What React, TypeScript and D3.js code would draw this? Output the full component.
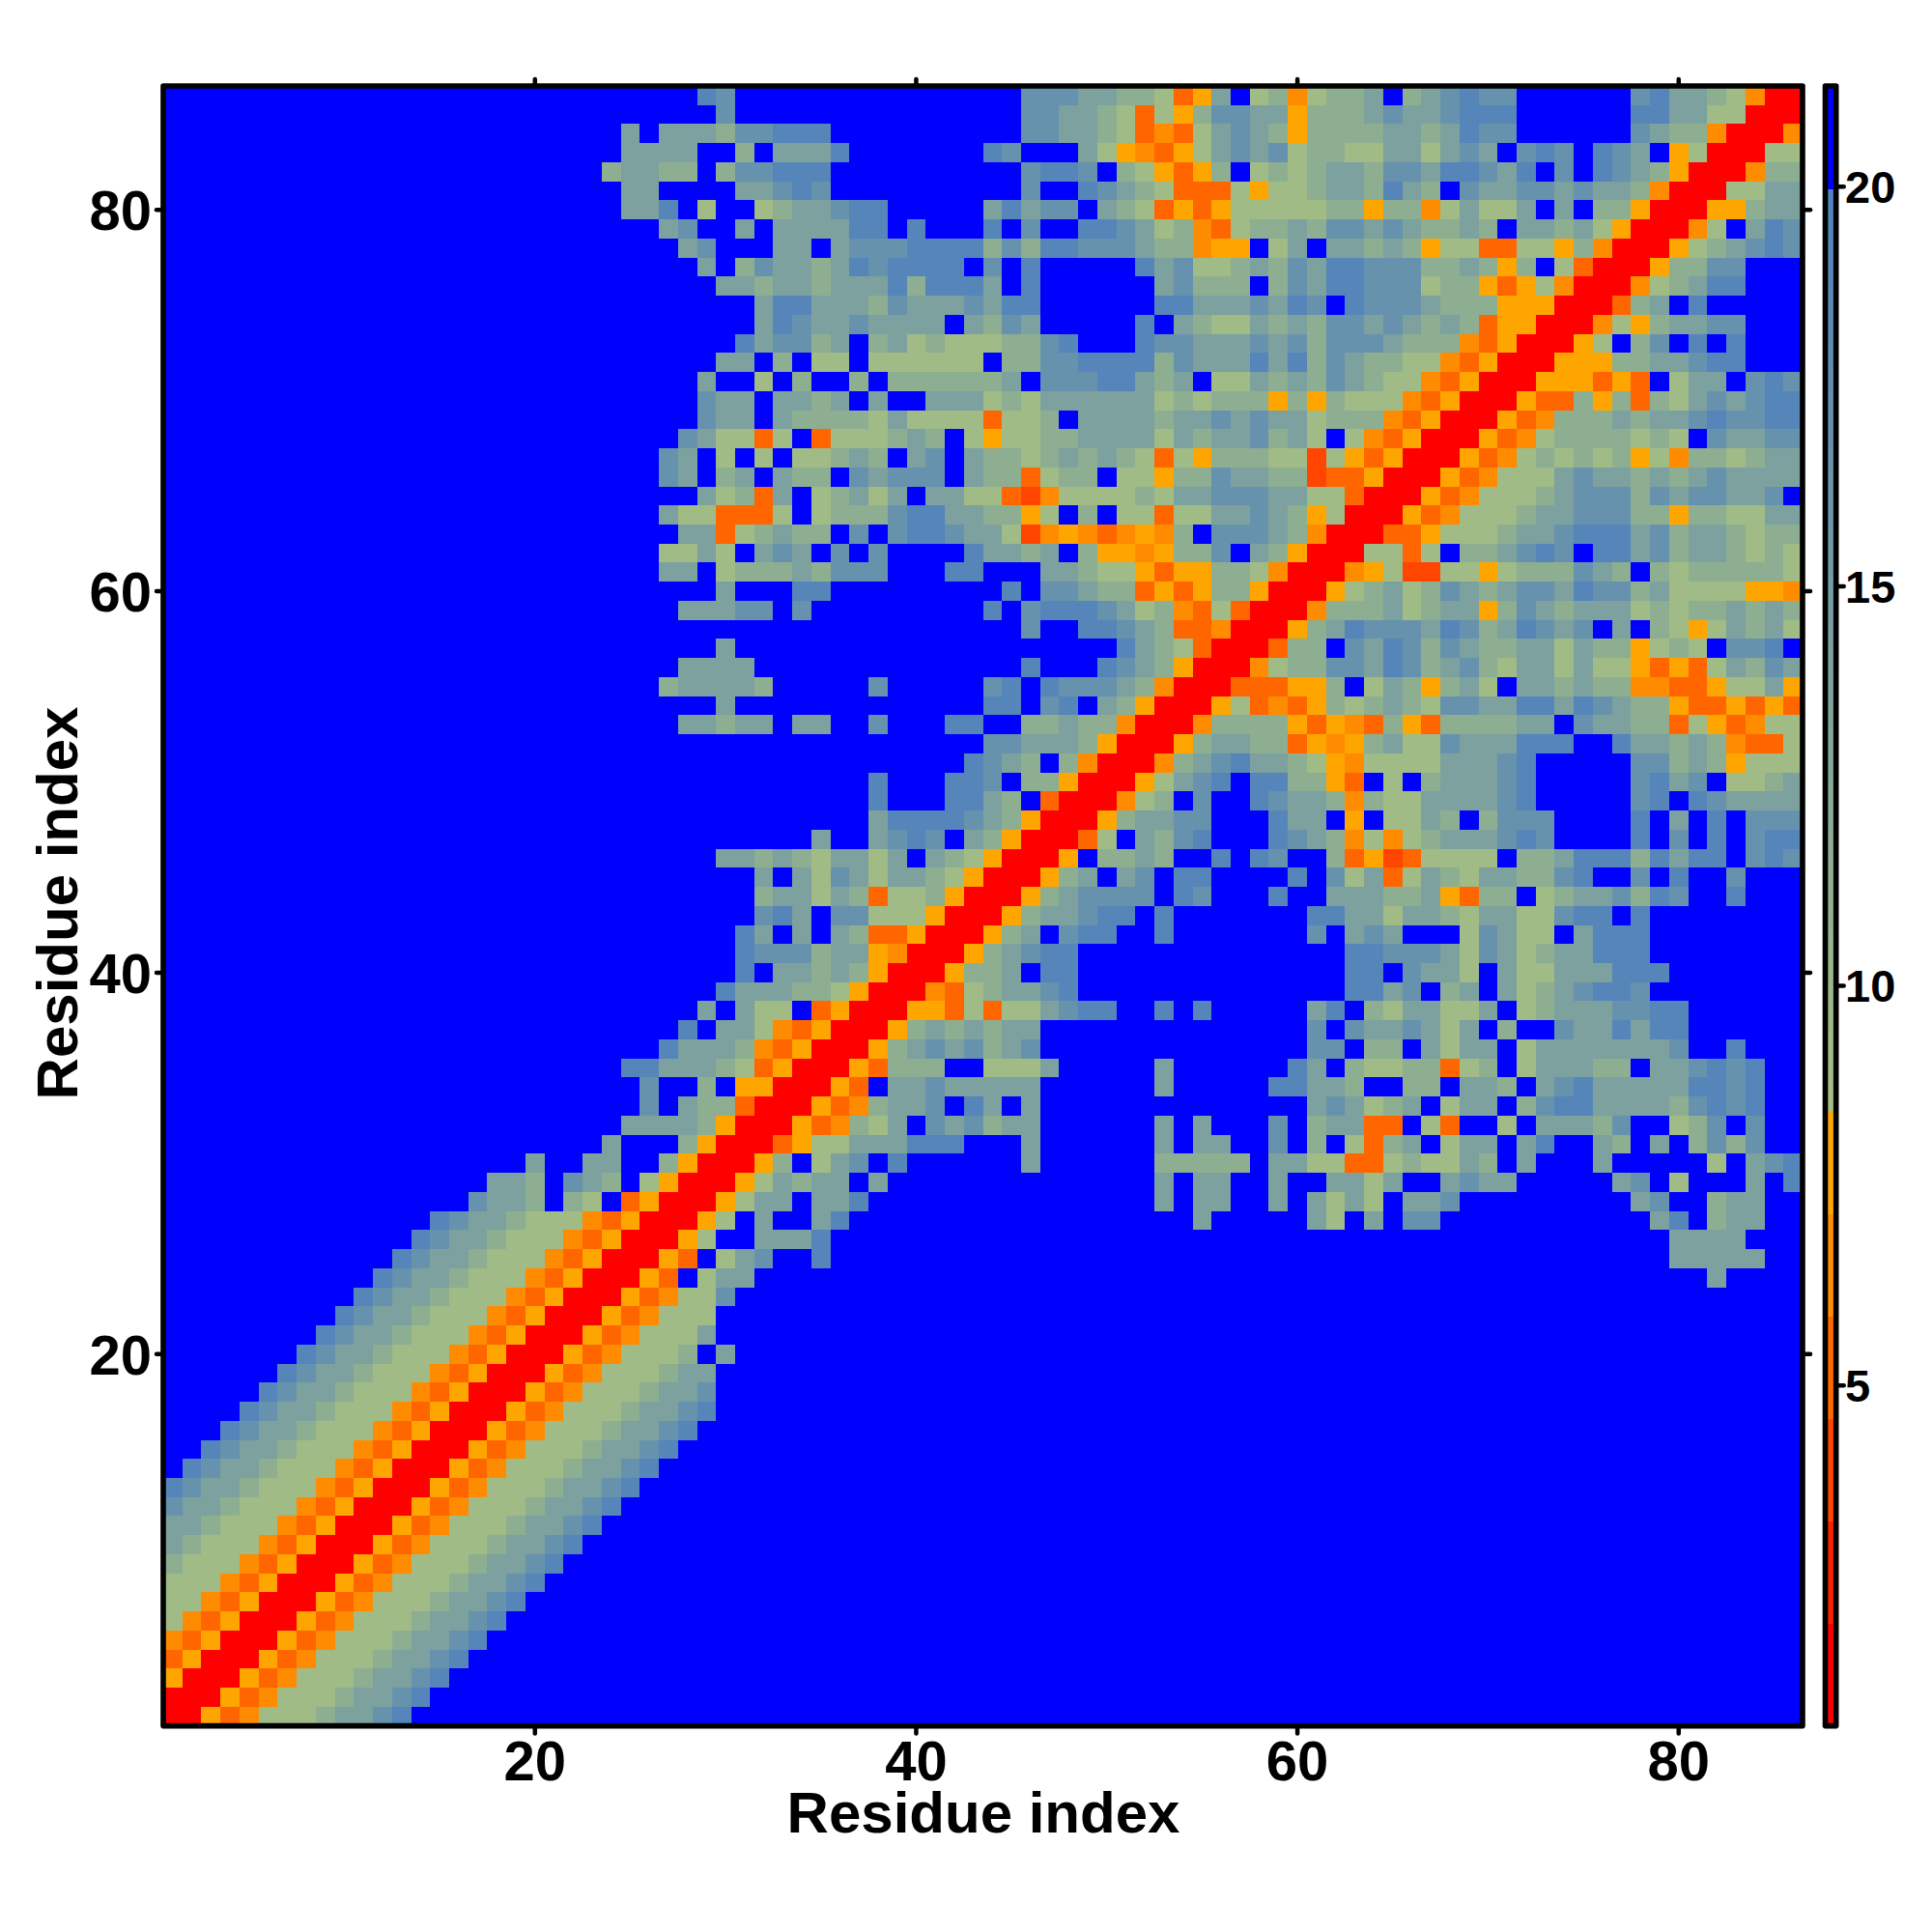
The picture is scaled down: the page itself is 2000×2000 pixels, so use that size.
import React from "react";
import * as d3 from "d3";

const FONT = "'Liberation Sans', Arial, Helvetica, sans-serif";
const RESIDUE_COUNT = 86;
const AXIS_TICKS = [20, 40, 60, 80];
const BAR_TICKS = [5, 10, 15, 20];
const AXIS_TITLE = "Residue index";

// Distance class (Angstrom-like value) of each code used in ROWS.
const LEVEL_VALUES: Record<string, number> = {
  R: 1.4, s: 4, r: 5.2, o: 6.4, y: 7.8, e: 9.2, d: 11.6, c: 14, b: 16.8, a: 19.2, B: 21,
};

// Colour bands of the key, from the bottom upward.
const BAND_COLORS = ["#FF0000", "#F52200", "#FF4500", "#FF6600", "#FF8C00", "#FFA500"];
const RAMP_LOW = "#A6BF82";
const RAMP_HIGH = "#4F81BD";
const FAR_COLOR = "#0000FF";
const VALUE_MIN = 0.74;
const VALUE_MAX = 21.26;
const KEY_LEVELS = 64;

// Top row first (residue 86). "col:codes" writes codes from that column; anything unwritten is far (B).
const ROWS = [
  "29:ab 46:bbbccdderycBedoeddcBdcbabbBBBBBBbaccdeoRR",
  "30:b 44:BBbbccdereydbbccydddc 65:bccbaaaBBBBBBaacceeRRR",
  "25:cBcccdbbaaa 44:BBbbccderorecbcdydddd 65:ccdcabbBBBBBBbcddoRRRo",
  "25:ccccBBdBccca 44:abBBBceyoryecbcbeddee 65:ccecbcBbabBabcByeRRRee",
  "24:dccddBdbbaaa 44:BBbaabBdeyrydBededccd 65:bbcaabcaBbBabcdyRRRodd",
  "25:ccBBBBccbab 44:BBbBBabcderrreyeedccd 65:acdBbccbbcbccdoRRReecc",
  "25:ccaBeBBedccbaa 44:cacbbBcderyryeeeeeddy 65:ddoeceecBcBddyRRRyydcc",
  "27:cbBBcBccccaaBa 44:aBbBBaabcedoreddcdbbc 65:bcddcdBccdceyRRRoeBcab",
  "28:cbBBBccBcbbbaaaa 44:dbdaabbbcddoyyBecBccd 65:cdyeerreeydoRRRyedcbab",
  "29:cBdbccdcabaaaaBb 45:BaBBBBBacbeedcdbcaab 65:bbddcdydBerRRRyddbbBBB",
  "30:ccdccdcccadaaac 45:BaBBBBBBcbdddBdbcaab 65:bbeddyryeoRRRoedcaaBBB",
  "32:caacccdbcccbc 45:aaBBBBBBaacccbcabBab 65:bbcdddyyyRRRrdcBaBBBBB",
  "32:cabccbccccBcd 45:bcBBBBBaBcdeecdcdbbc 65:bcdcdryyRRRoeydccbbBBB",
  "31:acbbdcBdcedeee 45:ddbaBBBabbcccbcbdbbb 65:cdddoryRRRyeBdbBaBaBBB",
  "30:ccBdBeeBeeeeeeB 45:ddbbaaaadbcccacadbcd 65:deeoryRRRyyyddccbaaBBB",
  "29:cBBeBdBBdBdddddd 45:cBbbbaacdcBeecdcdbcd 65:eeoryRRRyyyryrBeccBbab",
  "29:bccBccdcBcBBccce 45:deccccccededddydydee 65:eoryRRRyrrdydrdecbcbaa",
  "29:bccBcddddeceeeer 45:eedBccccdccbcbcceddd 65:oryRRRyrodddcdccbabbaa",
  "28:bceereBreeedcdBey 45:eeddccccecdccbdceBeo 65:ryRRRyroeddddedeBbccbb",
  "27:bcBeBeBeedcdBcbBcd 45:dedcdcdereydddeeseyr 65:yRRRyroedededyeoddedcc",
  "27:bcBdcBcddBbcbbbBcd 45:dreddBeeyddbccddsrry 65:RRRyroeeecbccdcdcbcccc",
  "29:cedrcBedcecBcceerso 48:eeeedeccbbbcceerR 65:RRyroeeedcbbbdbcbbccbB",
  "27:ceerrreBedddbaaccddye 48:BdBeereeccbcdyeRR 65:Ryroeeedccbbbddyddeecc",
  "28:ccredcddBbBbaabcceso 48:yoroyodBbbbcdoRRR 65:rryeeedccbaaacbdccdedd",
  "27:eeceBcbcBbBbBBBBaccdc 48:BdyyoyddbBcdyRRRe 65:ereBddcbabBaacbdccdede",
  "27:ccBedddcdbbbBBBaaBBBc 48:cdeeyryyddeoRRRoy 65:esseeyedddbcdBdeddddde",
  "30:cBBBaa 45:aBbbcddryryddyRRRyed 65:cedbcdcbbcabbdceeeeyyo",
  "28:cccbbBb 44:aBbaaabcedorerRRRoddd 65:cedccydbcdcccededdcdcd",
  "44:BBbBBaabcdrroRRRydcab 65:bbcabdcabcbBcBdeyecdce",
  "30:c 51:acderRRRrddBbc 65:abdbcddccecddyedeBbbaB",
  "28:cccc 46:a 50:abcdyRRRoeddbbc 65:abdcbdecceceeyryrecdbc",
  "27:dccccd 38:b 44:baBa 48:bbbcdoRRRrrryydBe 65:cdydceBccdcddoorryeecy",
  "30:c 44:aaBbaBcdyRRRyeroryded 65:cdebbccaacabcddyrryryr",
  "28:ccdccBccBBbBBBaaBBdd 48:cddoRRRoddddyryor 65:dyrddddccBbccddreyroee",
  "44:bbcccdyRRRydccddryoyd 65:ceebcccaaaBBaccdcdorre",
  "43:abcdBdoRRRodcbaccdeyoe 65:eeecccbaBBBBBbbdcdyeee",
  "38:a 42:aabBddyRRRyecbaBaaddyrB 65:eBdcccbaBBBBBbacbBeedc",
  "38:a 42:aacdBrRRRoedBbBBabccdod 65:eeccccbaBBBBBbaBabcccc",
  "38:caaaabcdyRRRydccbbBBBaccByB 65:eecdBdbbbBBBBaBcBaBbbb",
  "35:c 38:cbabBcdyRRRreBcdbaBBBabcdoe 65:oedcccbabBBBBaBbBaBbaa",
  "30:ccdcdeccecBcdeyRRR 48:yBddcdBBaBabBBdry 65:sreeeeBddcaaadacaaBbab",
  "32:cBcebceccdeyRRRy 48:dcBcbBaaBBBBaBbec 65:recdeccddbaBBbBaBBbBBB",
  "32:dccecdreedyRRRydc 49:bbbbBabBBBaBBccc 65:ddcyrddBedccbdabBBa",
  "32:bacBbbeeeyRRRydccbaaBa 61:aacc 65:eccdecceebaaBa",
  "31:acBcBcdrryRRRydcBbaaBBa 61:bBcbc 66:BBBebceeBcaaa",
  "31:abbbdccyoRRRydcbaa 63:aabbbcebcedccaaa",
  "31:aBccdcdyRRRyddcBaa 63:aaBbcceBceecccaaa",
  "30:acccddeyRRRoredccba 63:aacbBdcBcedcbaab",
  "29:cBceeBryRRRyyrereecbaa 53:a 55:a 61:caBdecceecBedcccbbaa",
  "28:aBcceoryRRRydcdcdcc 61:bBbccbcecBdBBbccacaa",
  "27:acccdoryRRRydcbcbdcb 61:bbBddBceccBecccccccb 83:a",
  "25:aacccderyRRRyrdddBBeeec 53:c 60:acBdeeddredBecccddBccbaba",
  "26:bBBdByyRRRyrBccbccccc 53:c 59:aaccdBBddBccdBcbacccccaaba",
  "26:bBcddrRRRyrodccbBacBc 61:cbcedcBeccBdbaaccccdbaba",
  "25:ccccdyRRRyrodecBbcbdcc 53:c 55:c 59:b 61:dccrrBerBBeBcccdbBBedbBb",
  "24:c 28:dyRRRryeecccaaa 46:c 53:c 55:cc 59:b 61:dBerdcBeccBcaBBcdBcBdbdb",
  "20:c 23:cc 27:dyRRRydBecbBa 46:c 53:ddddd 59:cceerre 66:deecdBc 76:c 82:e 84:cba",
  "18:ccd 22:bcd 26:eyRRRyecdccBc 53:c 55:cc 59:c 62:ccec 68:cbcc 77:cb 80:e 84:c 86:a",
  "17:bccd 22:de 25:ryRRRyeccBcca 53:c 55:cc 59:c 61:cece 66:ccb 78:cb 82:dcc",
  "15:abccdeeeoryRRRyeBcBBca 55:c 61:ceBc 66:bb 79:ca 82:dcc",
  "14:abccdeeeoryRRRyeBBccca 80:cccc",
  "13:abccdeeeoryRRRyrBecbBBa 80:ccccc",
  "12:abccdeeeoryRRRyrBecc 82:c",
  "11:abccdeeeoryRRRyroeeb",
  "10:abccdeeeoryRRRyroeee",
  "9:abccdeeeoryRRRyroeeec",
  "8:abccdeeeoryRRRyroeeedBc",
  "7:abccdeeeoryRRRyroeeedcc",
  "6:abccdeeeoryRRRyroeeedccb",
  "5:abccdeeeoryRRRyroeeedccba",
  "4:abccdeeeoryRRRyroeeedccba",
  "3:abccdeeeoryRRRyroeeedccba",
  "2:abccdeeeoryRRRyroeeedccba",
  "1:abccdeeeoryRRRyroeeedccba",
  "1:bccdeeeoryRRRyroeeedccba",
  "1:ccdeeeoryRRRyroeeedccba",
  "1:cdeeeoryRRRyroeeedccba",
  "1:deeeoryRRRyroeeedccba",
  "1:eeeoryRRRyroeeedccba",
  "1:eeoryRRRyroeeedccba",
  "1:eoryRRRyroeeedccba",
  "1:oryRRRyroeeedccba",
  "1:ryRRRyroeeedccba",
  "1:yRRRyroeeedccba",
  "1:RRRyroeeedccba",
  "1:RRyroeeedccba",
];

type Cell = { col: number; row: number; value: number };

function decodeCells(): Cell[] {
  const cells: Cell[] = [];
  ROWS.forEach((line, i) => {
    const row = RESIDUE_COUNT - i;
    const codes = new Array(RESIDUE_COUNT + 1).fill("B");
    line.split(" ").forEach((seg) => {
      const [start, text] = seg.split(":");
      text.split("").forEach((ch, k) => {
        const col = +start + k;
        if (col <= RESIDUE_COUNT) codes[col] = ch;
      });
    });
    for (let col = 1; col <= RESIDUE_COUNT; col++) {
      cells.push({ col, row, value: LEVEL_VALUES[codes[col]] });
    }
  });
  return cells;
}

const step = (VALUE_MAX - VALUE_MIN) / KEY_LEVELS;
const bandScale = d3
  .scaleQuantize<string>()
  .domain([VALUE_MIN, VALUE_MIN + 24 * step])
  .range(BAND_COLORS);
const rampScale = d3
  .scaleLinear<string>()
  .domain([VALUE_MIN + 24 * step, VALUE_MIN + 60 * step])
  .range([RAMP_LOW, RAMP_HIGH]);

function colorOf(v: number): string {
  if (v >= VALUE_MIN + 60 * step) return FAR_COLOR;
  if (v < VALUE_MIN + 24 * step) return bandScale(v);
  return rampScale(v);
}

const x = d3.scaleLinear().domain([0.5, 86.5]).range([169, 1866]);
const y = d3.scaleLinear().domain([0.5, 86.5]).range([1786.6, 89]);
const barY = d3.scaleLinear().domain([VALUE_MIN, VALUE_MAX]).range([1786.6, 89]);

const BAR_LEFT = 1889.5;
const BAR_RIGHT = 1900.7;
const BORDER = 5.6;
const TICK = 6;
const TICK_W = 4.5;

export default function App() {
  const cells = decodeCells();
  const keyLevels = d3.range(KEY_LEVELS);
  const left = x(0.5);
  const right = x(86.5);
  const top = y(86.5);
  const bottom = y(0.5);
  const tickProps = { stroke: "#000", strokeWidth: TICK_W, strokeLinecap: "round" as const };
  return (
    <svg
      width={2000}
      height={2000}
      viewBox="0 0 2000 2000"
      style={{ position: "absolute", left: 0, top: 0, display: "block", background: "#fff" }}
      fontFamily={FONT}
      fontWeight="bold"
    >
      <g shapeRendering="crispEdges">
        {cells.map((c) => (
          <rect
            key={`${c.col}-${c.row}`}
            x={x(c.col - 0.5)}
            y={y(c.row + 0.5)}
            width={x(c.col + 0.5) - x(c.col - 0.5) + 0.4}
            height={y(c.row - 0.5) - y(c.row + 0.5) + 0.4}
            fill={colorOf(c.value)}
          />
        ))}
      </g>
      <rect x={left} y={top} width={right - left} height={bottom - top} fill="none" stroke="#000" strokeWidth={BORDER} strokeLinejoin="round" />
      {AXIS_TICKS.map((t) => (
        <g key={t}>
          <line x1={x(t)} x2={x(t)} y1={bottom + 2} y2={bottom + TICK + 2} {...tickProps} />
          <line x1={x(t)} x2={x(t)} y1={top - 2} y2={top - TICK - 1} {...tickProps} />
          <line y1={y(t)} y2={y(t)} x1={left - 2} x2={left - TICK - 1} {...tickProps} />
          <line y1={y(t)} y2={y(t)} x1={right + 2} x2={right + TICK + 2} {...tickProps} />
          <text x={x(t)} y={1843} fontSize={58} textAnchor="middle">{t}</text>
          <text x={157} y={y(t)} dy="0.36em" fontSize={58} textAnchor="end">{t}</text>
        </g>
      ))}
      <text x={1018} y={1897} fontSize={60} textAnchor="middle">{AXIS_TITLE}</text>
      <text transform={`translate(80,935) rotate(-90)`} fontSize={60} textAnchor="middle">{AXIS_TITLE}</text>

      <g shapeRendering="crispEdges">
        {keyLevels.map((l) => {
          const lo = VALUE_MIN + l * step;
          return (
            <rect
              key={l}
              x={BAR_LEFT}
              width={BAR_RIGHT - BAR_LEFT}
              y={barY(lo + step)}
              height={barY(lo) - barY(lo + step) + 0.5}
              fill={colorOf(lo + step / 2)}
            />
          );
        })}
      </g>
      <rect x={BAR_LEFT} y={top} width={BAR_RIGHT - BAR_LEFT} height={bottom - top} fill="none" stroke="#000" strokeWidth={BORDER} strokeLinejoin="round" />
      {BAR_TICKS.map((t) => (
        <g key={t}>
          <line x1={BAR_RIGHT + 2} x2={BAR_RIGHT + 8} y1={barY(t)} y2={barY(t)} {...tickProps} />
          <text x={1910} y={barY(t)} dy="0.36em" fontSize={47}>{t}</text>
        </g>
      ))}
    </svg>
  );
}
